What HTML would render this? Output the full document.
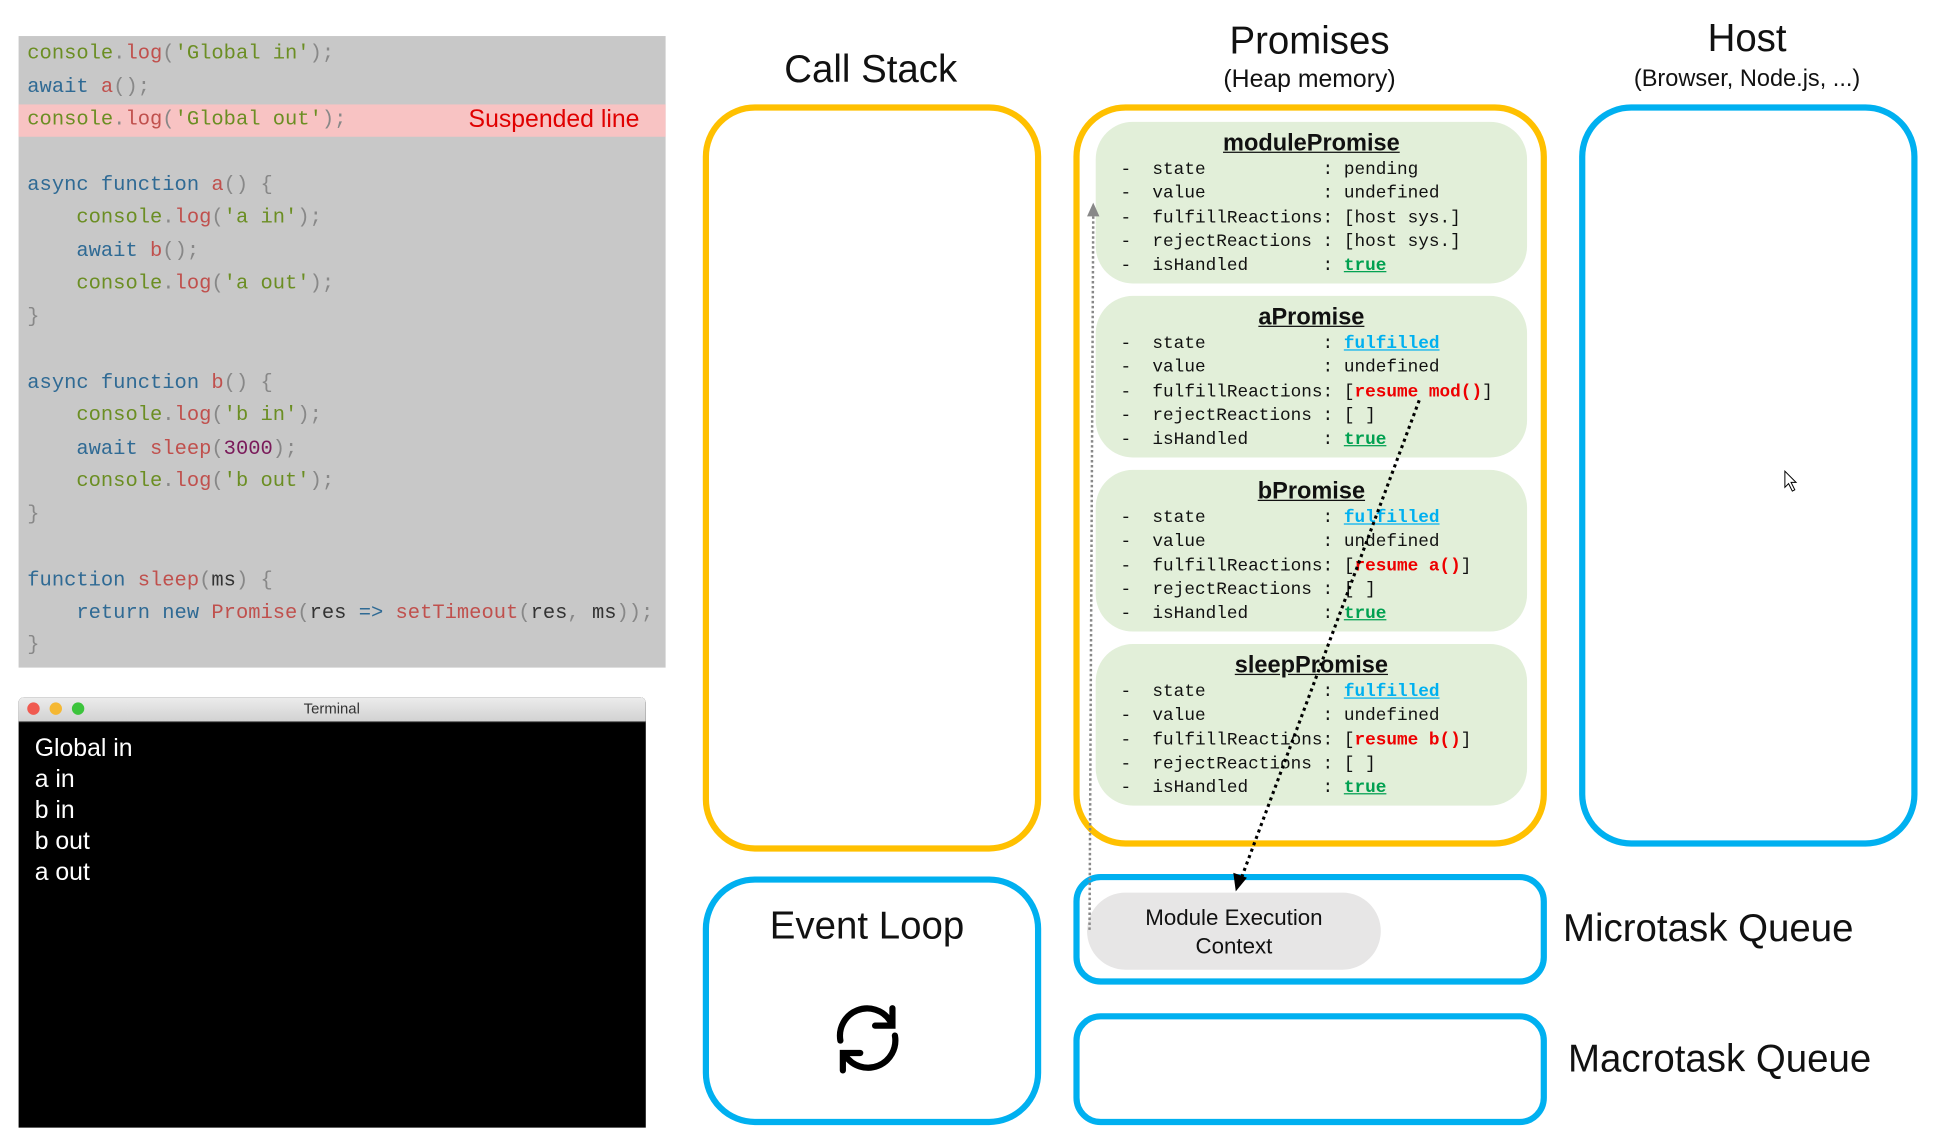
<!DOCTYPE html>
<html><head><meta charset="utf-8"><style>
html,body{margin:0;padding:0;background:#fff;width:1942px;height:1135px;overflow:hidden}
#w{position:absolute;left:0;top:0;width:1562px;height:913px;transform:scale(1.2395,1.2432);transform-origin:0 0;font-family:"Liberation Sans",sans-serif}
.a{position:absolute;white-space:pre}
.code{position:absolute;left:15px;top:29px;width:522px;height:508px;background:#c8c8c8}
.cl{position:absolute;left:7px;font-family:"Liberation Mono",monospace;font-size:16.5px;line-height:20px;white-space:pre;color:#6b8e23}
.k{color:#2f6a94}.f{color:#c0504d}.p{color:#888}.n{color:#7a1a5a}.d{color:#333}
.box{position:absolute;box-sizing:border-box;border-radius:42px}
.y{border:5px solid #ffc000}.b{border:5px solid #00b0f0}
.t{position:absolute;text-align:center;font-size:31px;color:#111}
.card{position:absolute;left:884px;width:348px;height:130px;background:#e2efd9;border-radius:30px}
.ct{position:absolute;left:0;width:100%;top:7px;text-align:center;font-weight:bold;font-size:19px;text-decoration:underline;color:#111}
.fl{position:absolute;left:20px;top:30px;font-family:"Liberation Mono",monospace;font-size:14.3px;line-height:19.3px;white-space:pre;color:#111}
.u{text-decoration:underline;font-weight:bold}.bl{color:#00b0f0}.g{color:#00a050}.r{color:#ee0000;font-weight:bold}
.term{position:absolute;color:#fff;font-size:20px;left:28px}
</style></head><body><div id="w">
<div class="code">
<div style="position:absolute;left:0;top:55px;width:522px;height:26px;background:#f8c3c3"></div>
<div class="cl" style="top:4px">console<span class="p">.</span><span class="f">log</span><span class="p">(</span>'Global in'<span class="p">);</span></div>
<div class="cl" style="top:31px"><span class="k">await</span> <span class="f">a</span><span class="p">();</span></div>
<div class="cl" style="top:57px">console<span class="p">.</span><span class="f">log</span><span class="p">(</span>'Global out'<span class="p">);</span></div>
<div class="a" style="left:363px;top:56px;font-size:20px;color:#e00000">Suspended line</div>
<div class="cl" style="top:110px"><span class="k">async function</span> <span class="f">a</span><span class="p">() {</span></div>
<div class="cl" style="top:136px">    console<span class="p">.</span><span class="f">log</span><span class="p">(</span>'a in'<span class="p">);</span></div>
<div class="cl" style="top:163px">    <span class="k">await</span> <span class="f">b</span><span class="p">();</span></div>
<div class="cl" style="top:189px">    console<span class="p">.</span><span class="f">log</span><span class="p">(</span>'a out'<span class="p">);</span></div>
<div class="cl" style="top:216px"><span class="p">}</span></div>
<div class="cl" style="top:269px"><span class="k">async function</span> <span class="f">b</span><span class="p">() {</span></div>
<div class="cl" style="top:295px">    console<span class="p">.</span><span class="f">log</span><span class="p">(</span>'b in'<span class="p">);</span></div>
<div class="cl" style="top:322px">    <span class="k">await</span> <span class="f">sleep</span><span class="p">(</span><span class="n">3000</span><span class="p">);</span></div>
<div class="cl" style="top:348px">    console<span class="p">.</span><span class="f">log</span><span class="p">(</span>'b out'<span class="p">);</span></div>
<div class="cl" style="top:375px"><span class="p">}</span></div>
<div class="cl" style="top:428px"><span class="k">function</span> <span class="f">sleep</span><span class="p">(</span><span class="d">ms</span><span class="p">) {</span></div>
<div class="cl" style="top:454px">    <span class="k">return new</span> <span class="f">Promise</span><span class="p">(</span><span class="d">res</span> <span class="k">=&gt;</span> <span class="f">setTimeout</span><span class="p">(</span><span class="d">res</span><span class="p">,</span> <span class="d">ms</span><span class="p">));</span></div>
<div class="cl" style="top:480px"><span class="p">}</span></div>
</div>

<div style="position:absolute;left:15px;top:561px;width:506px;height:346px;background:#000;border-radius:4px 4px 0 0"></div>
<div style="position:absolute;left:15px;top:561px;width:506px;height:19px;background:linear-gradient(#ececec,#d2d2d2);border-bottom:1px solid #777;border-radius:4px 4px 0 0"></div>
<div style="position:absolute;left:22px;top:565px;width:10px;height:10px;border-radius:50%;background:#f05a50"></div>
<div style="position:absolute;left:40px;top:565px;width:10px;height:10px;border-radius:50%;background:#f5b833"></div>
<div style="position:absolute;left:58px;top:565px;width:10px;height:10px;border-radius:50%;background:#3cc43c"></div>
<div class="a" style="left:245px;top:563px;font-size:12px;color:#333">Terminal</div>
<div class="term" style="top:591px">Global in</div>
<div class="term" style="top:616px">a in</div>
<div class="term" style="top:641px">b in</div>
<div class="term" style="top:666px">b out</div>
<div class="term" style="top:691px">a out</div>

<div class="t" style="left:567px;width:271px;top:38px">Call Stack</div>
<div class="box y" style="left:567px;top:84px;width:273px;height:601px"></div>
<div class="t" style="left:866px;width:381px;top:15px">Promises</div>
<div class="a" style="left:866px;width:381px;top:53px;text-align:center;font-size:20px;color:#111">(Heap memory)</div>
<div class="box y" style="left:866px;top:84px;width:382px;height:597px"></div>
<div class="t" style="left:1274px;width:271px;top:13px">Host</div>
<div class="a" style="left:1274px;width:271px;top:53px;text-align:center;font-size:19px;color:#111">(Browser, Node.js, ...)</div>
<div class="box b" style="left:1274px;top:84px;width:273px;height:597px"></div>

<div class="card" style="top:98px"><div class="ct">modulePromise</div><div class="fl">-  state           : pending
-  value           : undefined
-  fulfillReactions: [host sys.]
-  rejectReactions : [host sys.]
-  isHandled       : <span class="u g">true</span></div></div>
<div class="card" style="top:238px"><div class="ct">aPromise</div><div class="fl">-  state           : <span class="u bl">fulfilled</span>
-  value           : undefined
-  fulfillReactions: [<span class="r">resume mod()</span>]
-  rejectReactions : [ ]
-  isHandled       : <span class="u g">true</span></div></div>
<div class="card" style="top:378px"><div class="ct">bPromise</div><div class="fl">-  state           : <span class="u bl">fulfilled</span>
-  value           : undefined
-  fulfillReactions: [<span class="r">resume a()</span>]
-  rejectReactions : [ ]
-  isHandled       : <span class="u g">true</span></div></div>
<div class="card" style="top:518px"><div class="ct">sleepPromise</div><div class="fl">-  state           : <span class="u bl">fulfilled</span>
-  value           : undefined
-  fulfillReactions: [<span class="r">resume b()</span>]
-  rejectReactions : [ ]
-  isHandled       : <span class="u g">true</span></div></div>

<div class="box b" style="left:567px;top:705px;width:273px;height:200px"></div>
<div class="t" style="left:567px;width:265px;top:727px">Event Loop</div>
<svg style="position:absolute;left:668px;top:803px" width="64" height="64" viewBox="0 0 64 64">
<g fill="none" stroke="#000" stroke-width="5" stroke-linecap="round">
<path d="M10 34 A22 22 0 0 1 50 18"/><path d="M54 30 A22 22 0 0 1 14 46"/>
<path d="M52 8 L52 22 L38 22"/><path d="M12 58 L12 44 L26 44"/></g></svg>

<div class="box b" style="left:866px;top:703px;width:382px;height:89px;border-radius:22px"></div>
<div style="position:absolute;left:877px;top:718px;width:237px;height:62px;border-radius:31px;background:#e7e6e6"></div>
<div class="a" style="left:877px;width:237px;top:727px;text-align:center;font-size:18px;line-height:23px;color:#111">Module Execution
Context</div>
<div class="t" style="left:1261px;top:729px;text-align:left">Microtask Queue</div>
<div class="box b" style="left:866px;top:815px;width:382px;height:90px;border-radius:22px"></div>
<div class="t" style="left:1265px;top:834px;text-align:left">Macrotask Queue</div>

<svg style="position:absolute;left:0;top:0" width="1562" height="913">
<line x1="879" y1="748" x2="882" y2="172" stroke="#888" stroke-width="2" stroke-dasharray="2,2"/>
<polygon points="877,174 887,174 882,163" fill="#888"/>
<line x1="1145" y1="322" x2="1002" y2="705" stroke="#000" stroke-width="2.5" stroke-dasharray="2.5,3"/>
<polygon points="995,702 1006,706 997,717" fill="#000"/>
<path d="M1440 379 L1440 392 L1443 389 L1446 395 L1448 394 L1445 388 L1449 388 Z" fill="#fff" stroke="#000" stroke-width="0.8"/>
</svg>
</div></body></html>
